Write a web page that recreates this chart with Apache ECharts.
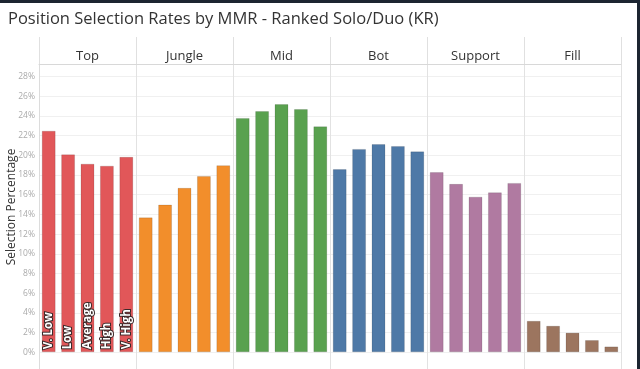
<!DOCTYPE html>
<html>
<head>
<meta charset="utf-8">
<script src="https://cdn.jsdelivr.net/npm/echarts@6/dist/echarts.min.js"></script>
<style>
html,body{margin:0;padding:0;background:#fff;}
#chart{width:640px;height:369px;}
</style>
</head>
<body>
<div id="chart"></div>
<script>
const positions = ['Top', 'Jungle', 'Mid', 'Bot', 'Support', 'Fill'];
const tiers = ['V. Low', 'Low', 'Average', 'High', 'V. High'];
const topRates = [22.5, 20.1, 19.15, 18.95, 19.85];
const jungleRates = [13.7, 15.0, 16.7, 17.9, 19.0];
const midRates = [23.8, 24.5, 25.2, 24.7, 22.95];
const botRates = [18.6, 20.65, 21.15, 20.95, 20.4];
const supportRates = [18.3, 17.1, 15.8, 16.25, 17.2];
const fillRates = [3.2, 2.7, 2.0, 1.25, 0.6];
const yTicks = [0, 2, 4, 6, 8, 10, 12, 14, 16, 18, 20, 22, 24, 26, 28];
const colors = ['#e15759', '#f28e2b', '#59a14f', '#4e79a7', '#b07aa1', '#9c755f'];

const groups = [topRates, jungleRates, midRates, botRates, supportRates, fillRates];
const cats = [];
const data = [];
groups.forEach((arr, gi) => {
  arr.forEach((v, ti) => {
    cats.push(positions[gi] + ' ' + tiers[ti]);
    const item = {
      value: v,
      itemStyle: { color: colors[gi] }
    };
    if (gi === 0) {
      item.label = {
        show: true,
        formatter: tiers[ti],
        position: 'insideBottom',
        rotate: 90,
        align: 'left',
        verticalAlign: 'middle',
        distance: 3,
        color: '#fff',
        fontSize: 11.5,
        fontWeight: 'bold',
        fontFamily: 'Open Sans',
        textBorderColor: '#3a2a2a',
        textBorderWidth: 2
      };
    }
    data.push(item);
  });
});

const chart = echarts.init(document.getElementById('chart'), null, { renderer: 'canvas' });
chart.setOption({
  backgroundColor: '#fff',
  animation: false,
  title: {
    text: 'Position Selection Rates by MMR - Ranked Solo/Duo (KR)',
    left: 3,
    top: 6,
    textStyle: { fontFamily: 'Open Sans', fontSize: 16.5, fontWeight: 'normal', color: '#333' }
  },
  graphic: [
    { type: 'rect', shape: { x: 0, y: 0, width: 640, height: 3 }, style: { fill: '#1c2531' }, z: 100 },
    { type: 'rect', shape: { x: 637, y: 0, width: 3, height: 369 }, style: { fill: '#1c2531' }, z: 100 }
  ],
  grid: { left: 39, right: 19, top: 64, bottom: -3, outerBoundsMode: 'none', containLabel: false },
  xAxis: [
    {
      type: 'category',
      data: cats,
      boundaryGap: true,
      axisLine: { show: false },
      axisTick: { show: false },
      axisLabel: { show: false },
      splitLine: { show: false }
    },
    {
      type: 'category',
      data: positions,
      position: 'top',
      boundaryGap: true,
      axisLine: { show: true, lineStyle: { color: '#d8d8d8', width: 1 } },
      axisTick: { show: true, interval: 0, length: 27, lineStyle: { color: '#e0e0e0' } },
      axisLabel: { show: true, interval: 0, margin: 1, color: '#333', fontSize: 13, fontFamily: 'Open Sans' },
      splitLine: { show: true, interval: 0, lineStyle: { color: '#e2e2e2', width: 1 } }
    }
  ],
  yAxis: {
    type: 'value',
    min: -2,
    max: 29.27,
    interval: 2,
    name: 'Selection Percentage',
    nameLocation: 'middle',
    nameRotate: 90,
    nameGap: 21,
    nameMoveOverlap: false,
    nameTextStyle: { fontFamily: 'Open Sans', fontSize: 12, color: '#333', padding: [0, 0, 0, 22] },
    axisLine: { show: true, lineStyle: { color: '#dcdcdc' } },
    axisTick: { show: false },
    axisLabel: {
      margin: 4,
      color: '#aaa',
      fontSize: 8.5,
      fontFamily: 'Open Sans',
      formatter: v => (yTicks.indexOf(Math.round(v * 100) / 100) >= 0 ? v + '%' : '')
    },
    splitLine: { show: true, lineStyle: { color: '#f0f0f0', width: 1 } }
  },
  series: [{
    type: 'bar',
    xAxisIndex: 0,
    data: data,
    barCategoryGap: '28%',
    itemStyle: { borderColor: 'rgba(0,0,0,0.12)', borderWidth: 1 }
  }]
});
</script>
</body>
</html>
